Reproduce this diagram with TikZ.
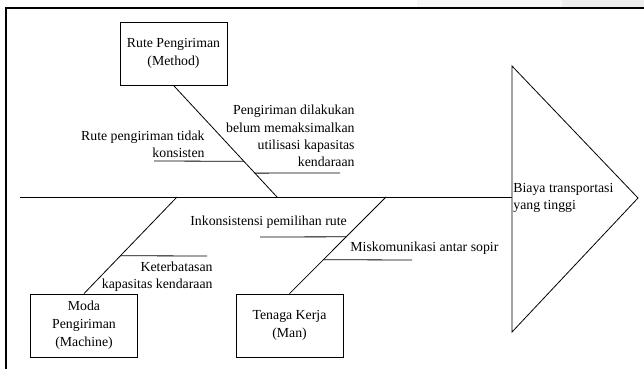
\documentclass[tikz,border=0pt]{standalone}
\usepackage{fontspec}
\setmainfont{Liberation Serif}
\usetikzlibrary{calc}
\begin{document}
\begin{tikzpicture}[x=1pt,y=-1pt,line width=0.8pt,
    causebox/.style={draw, align=center, minimum width=107pt, minimum height=63pt, inner sep=1pt, font=\fontsize{13.8}{18}\selectfont},
    subtext/.style={inner sep=0pt, font=\fontsize{13.8}{17.3}\selectfont}]
    \useasboundingbox (0,0) rectangle (644,369);
    % Page edge
    \fill[gray!6] (417,0) rectangle (562,7);
    \fill[gray!14] (562,0) rectangle (644,7);
    \draw[line width=2pt] (644,8) -- (6,8) -- (6,369);
    % Head
    \draw (512,66) -- (638,198) -- (512,332) -- cycle;
    \node[subtext, anchor=west, align=left] (effect) at (513,198) {Biaya transportasi\\yang tinggi};
    % Spine
    \coordinate (tail) at (20,197);
    \coordinate (headw) at (512,197);
    \draw (tail) -- (headw);
    % Method
    \node[causebox] (method) at (173.5,53.5) {Rute Pengiriman\\(Method)};
    \coordinate (sp1) at (277,197);
    \draw (method.south) -- (sp1);
    \coordinate (m1) at ($(method.south)!0.68!(sp1)$);
    \coordinate (m1e) at (154,161);
    \draw (m1) -- (m1e);
    \node[subtext, anchor=east, align=right] (rute) at (205,144) {Rute pengiriman tidak\\konsisten};
    \coordinate (m2) at ($(method.south)!0.786!(sp1)$);
    \coordinate (m2e) at (340,173);
    \draw (m2) -- (m2e);
    \node[subtext, anchor=east, align=right] (util) at (355,136) {Pengiriman dilakukan\\belum memaksimalkan\\utilisasi kapasitas\\kendaraan};
    % Machine
    \node[causebox] (machine) at (84,325.5) {Moda\\Pengiriman\\(Machine)};
    \coordinate (sp2) at (177,197);
    \draw (sp2) -- (machine.north);
    \coordinate (k1) at ($(sp2)!0.608!(machine.north)$);
    \coordinate (k1e) at (207,256);
    \draw (k1) -- (k1e);
    \node[subtext, anchor=east, align=right] (kap) at (213,276.5) {Keterbatasan\\kapasitas kendaraan};
    % Man
    \node[causebox] (man) at (289.5,325.5) {Tenaga Kerja\\(Man)};
    \coordinate (sp3) at (386,197);
    \draw (sp3) -- (man.north);
    \coordinate (t1) at ($(sp3)!0.412!(man.north)$);
    \coordinate (t1e) at (260,237);
    \draw (t1) -- (t1e);
    \node[subtext, anchor=west] (inkon) at (190,222) {Inkonsistensi pemilihan rute};
    \coordinate (t2) at ($(sp3)!0.649!(man.north)$);
    \coordinate (t2e) at (412,260);
    \draw (t2) -- (t2e);
    \node[subtext, anchor=west] (misk) at (350,248) {Miskomunikasi antar sopir};
\end{tikzpicture}
\end{document}
